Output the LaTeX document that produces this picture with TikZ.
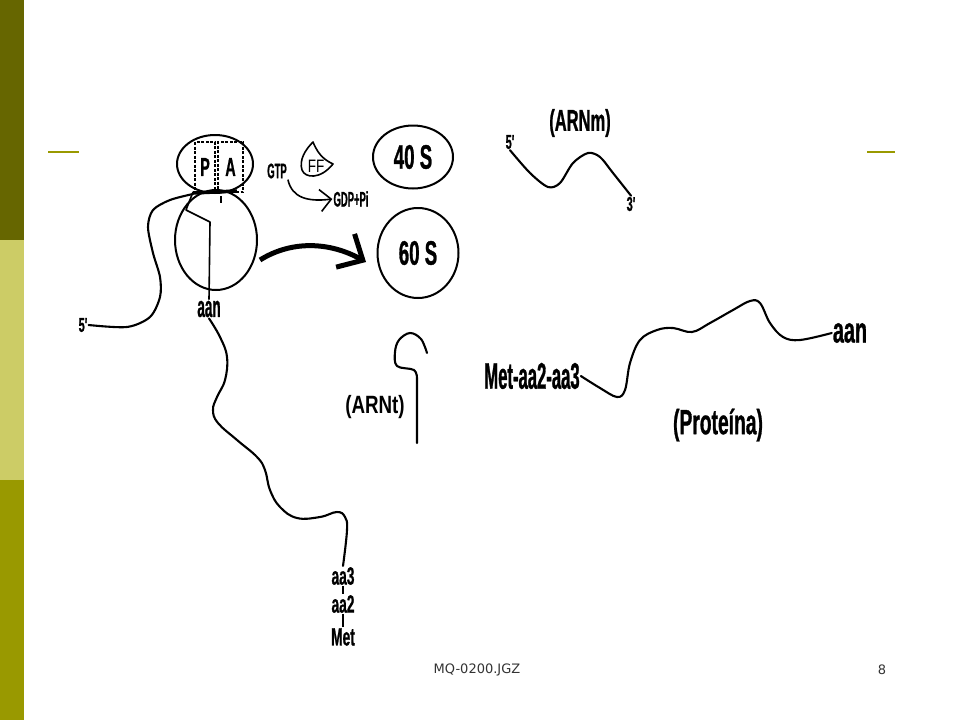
\documentclass[tikz,border=0pt]{standalone}
\usepackage{fontspec}
\usetikzlibrary{shapes.geometric,arrows.meta}
\setmainfont{Liberation Sans}
\newfontfamily\condfont[FakeStretch=0.55,FakeBold=0.8]{Liberation Sans}
\newfontfamily\narrowfont[FakeStretch=0.45,FakeBold=0.8]{Liberation Sans}
\newfontfamily\widefont[FakeStretch=0.75]{Liberation Sans}
\newfontfamily\footfont{DejaVu Sans}
\newcommand{\sz}[1]{\fontsize{#1}{#1}\selectfont}
\definecolor{barDark}{HTML}{666600}
\definecolor{barLight}{HTML}{CCCC66}
\definecolor{barMid}{HTML}{999900}
\definecolor{footgray}{HTML}{333333}
\tikzset{
  subunit/.style={draw, ellipse, line width=2pt, inner sep=0pt},
  sitebox/.style={draw, dash pattern=on 3pt off 1.5pt, line width=1.4pt, inner sep=0pt},
  txt/.style={inner sep=1pt},
  strand/.style={line width=2.1pt, line cap=round, line join=round},
}
\begin{document}
\begin{tikzpicture}[x=1pt,y=-1pt]
            \useasboundingbox (0,0) rectangle (960,720);
            \fill[barDark] (0,0) rectangle (24,240);
            \fill[barLight] (0,240) rectangle (24,480);
            \fill[barMid] (0,480) rectangle (24,720);
            \draw[barMid, line width=1.8pt] (48,152) -- (79,152);
            \draw[barMid, line width=1.8pt] (867,152) -- (895,152);
            % ribosome with P and A sites
            \node[subunit, minimum width=76pt, minimum height=58pt] (riboS) at (215,164) {};
            \node[sitebox, minimum width=20pt, minimum height=50pt, font=\condfont\bfseries\sz{26}] (siteP) at (205,167) {P};
            \node[sitebox, minimum width=25pt, minimum height=50pt, font=\condfont\bfseries\sz{26}] (siteA) at (230.5,167) {A};
            \node[subunit, minimum width=82pt, minimum height=100pt] (riboL) at (216,240) {};
            \draw[line width=3.5pt] (193,193) -- (237,191);
            \draw[line width=1.5pt] (221,196) -- (221,203);
            \node[txt, font=\condfont\bfseries\sz{20}] (fiveL) at (83,325) {5'};
            \draw[strand] plot[smooth] coordinates {(fiveL.east) (127,327) (150,317) (160,297) (160,277) (153,253) (148,227) (153,210) (170,200) (193,194)};
            \node[txt, font=\narrowfont\bfseries\sz{30}] (aanR) at (209,309) {aan};
            \draw[line width=1.6pt, line join=round] (193,192) -- (186,210) -- (210,222) -- (aanR.north);
            % growing chain
            \node[txt, font=\condfont\bfseries\sz{25}] (aa3) at (343,576) {aa3};
            \node[txt, font=\condfont\bfseries\sz{25}] (aa2) at (343,604) {aa2};
            \node[txt, font=\condfont\bfseries\sz{25}] (met) at (343,637) {Met};
            \draw[strand] plot[smooth, tension=0.7] coordinates {(aanR.south) (220,337) (227,357) (225,380) (217,397) (213,410) (218,423) (237,440) (257,457) (265,470) (270,490) (280,507) (297,518) (320,517) (337,512) (345,517) (347,530) (aa3.north)};
            \draw[line width=1.5pt] (aa3) -- (aa2);
            \draw[line width=1.5pt] (aa2) -- (met);
            % factor and GTP
            \node[txt, font=\narrowfont\bfseries\sz{21}] (gtp) at (277,171) {GTP};
            \node[txt, font=\narrowfont\bfseries\sz{21}] (gdp) at (351,199) {GDP+Pi};
            \draw[line width=1.6pt, -{Straight Barb[length=11pt,width=22pt]}] (gtp.south east) .. controls (292,198) and (308,202) .. (gdp.west);
            \draw[line width=1.6pt, line join=round] (313,142) .. controls (305,150) and (299,160) .. (302,170) .. controls (305,178) and (320,180) .. (333,164) .. controls (327,161) and (319,157) .. (313,142) -- cycle;
            \node[txt, font=\widefont\sz{18}] (ff) at (316,166) {FF};
            % free subunits
            \node[subunit, minimum width=80pt, minimum height=63pt, font=\condfont\bfseries\sz{34}] (sub40) at (413,157) {40 S};
            \node[subunit, minimum width=81pt, minimum height=90pt, font=\condfont\bfseries\sz{34}] (sub60) at (418,253) {60 S};
            \coordinate (swingA) at (260,260);
            \coordinate (swingB) at (366,262);
            \draw[line width=5pt, -{Straight Barb[length=20pt,width=38pt]}] (swingA) .. controls (292,240) and (330,242) .. (swingB);
            % messenger
            \node[txt, font=\condfont\bfseries\sz{30}] (arnm) at (580,123) {(ARNm)};
            \node[txt, font=\condfont\bfseries\sz{20}] (fiveM) at (510,142) {5'};
            \node[txt, font=\condfont\bfseries\sz{20}] (threeM) at (631,204) {3'};
            \draw[strand] plot[smooth] coordinates {(fiveM.south) (530,173) (548,187) (560,183) (573,163) (588,153) (600,157) (613,173) (threeM.north)};
            % transfer
            \node[txt, font=\widefont\bfseries\sz{25}] (arnt) at (375,407) {(ARNt)};
            \coordinate (arntEnd) at (417,443);
            \draw[strand] plot[smooth, tension=0.6] coordinates {(427,353) (421,339) (410,333) (399,340) (395,352) (397,366) (414,370) (417,379)} -- (arntEnd);
            % protein
            \node[txt, font=\narrowfont\bfseries\sz{37}] (pepN) at (532,376) {Met-aa2-aa3};
            \node[txt, font=\condfont\bfseries\sz{36}] (pepC) at (850,333) {aan};
            \node[txt, font=\condfont\bfseries\sz{35}] (prot) at (718,425) {(Proteína)};
            \draw[strand] plot[smooth, tension=0.6] coordinates {(pepN.east) (600,388) (617,397) (625,390) (630,363) (640,340) (657,330) (673,328) (692,332) (710,323) (733,310) (750,301) (760,303) (770,323) (783,337) (800,340) (pepC.west)};
            % footer
            \node[font=\footfont\sz{13}, text=footgray] (slidefile) at (477,670) {MQ-0200.JGZ};
            \node[font=\footfont\sz{13}, text=footgray] (slidenum) at (882,670) {8};
        \end{tikzpicture}
\end{document}
